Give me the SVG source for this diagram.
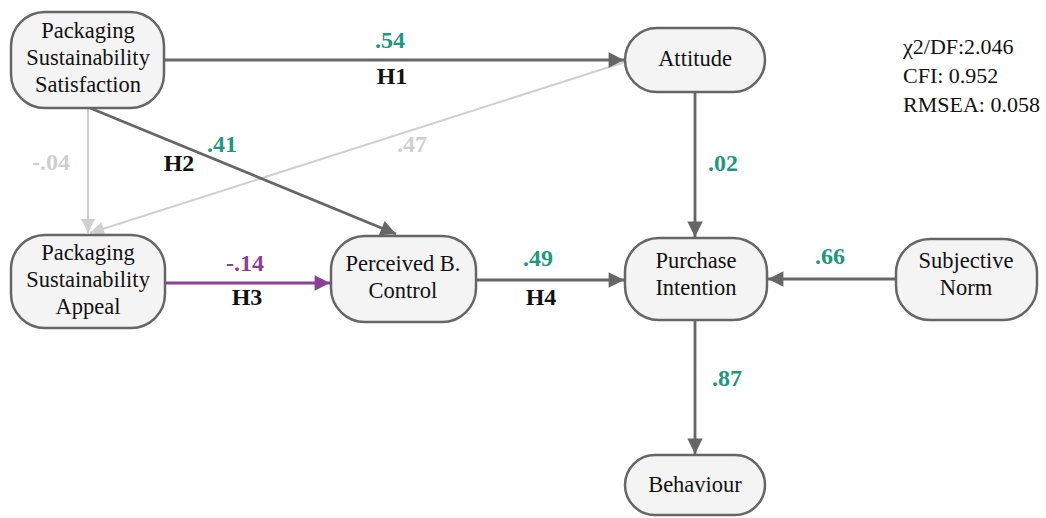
<svg xmlns="http://www.w3.org/2000/svg" width="1046" height="518" viewBox="0 0 1046 518">
<style>
.node rect{fill:#f4f4f4;stroke:#666;stroke-width:2.5}
.node text{font-family:"Liberation Serif",serif;font-size:22.5px;fill:#111;text-anchor:middle}
.e{stroke:#666;stroke-width:2.8;fill:none}
.el{stroke:#cfcfcf;stroke-width:2;fill:none}
.ep{stroke:#8b3f96;stroke-width:2.8;fill:none}
.lbl{font-family:"Liberation Serif",serif;font-size:24px;font-weight:bold;text-anchor:middle}
.t{fill:#22967f}.g{fill:#cfcfcf}.p{fill:#8b3f96}.k{fill:#111}
.fit{font-family:"Liberation Serif",serif;font-size:22px;fill:#111}
</style>
<defs>
<marker id="ad" viewBox="0 0 10 10" refX="10" refY="5" markerWidth="6.5" markerHeight="5.5" markerUnits="strokeWidth" orient="auto"><path d="M0,0L10,5L0,10z" fill="#666"/></marker>
<marker id="al" viewBox="0 0 10 10" refX="10" refY="5" markerWidth="8" markerHeight="7" markerUnits="strokeWidth" orient="auto"><path d="M0,0L10,5L0,10z" fill="#cfcfcf"/></marker>
<marker id="ap" viewBox="0 0 10 10" refX="10" refY="5" markerWidth="6.5" markerHeight="5.5" markerUnits="strokeWidth" orient="auto"><path d="M0,0L10,5L0,10z" fill="#8b3f96"/></marker>
</defs>
<g id="connectors">
<line class="el" x1="88" y1="108" x2="88" y2="233" marker-end="url(#al)"/>
<line class="el" x1="625" y1="62" x2="90" y2="233" marker-end="url(#al)"/>
<line class="e" x1="164" y1="60" x2="624" y2="60" marker-end="url(#ad)"/>
<line class="e" x1="90" y1="108" x2="396" y2="234" marker-end="url(#ad)"/>
<line class="e" x1="695" y1="92" x2="695" y2="237" marker-end="url(#ad)"/>
<line class="ep" x1="165" y1="283" x2="330" y2="283" marker-end="url(#ap)"/>
<line class="e" x1="476" y1="280" x2="624" y2="280" marker-end="url(#ad)"/>
<line class="e" x1="896" y1="279" x2="768" y2="279" marker-end="url(#ad)"/>
<line class="e" x1="695" y1="320" x2="695" y2="454" marker-end="url(#ad)"/>
<text class="lbl t" x="390" y="48">.54</text>
<text class="lbl k" x="392" y="84">H1</text>
<text class="lbl t" x="222" y="152">.41</text>
<text class="lbl k" x="179" y="171">H2</text>
<text class="lbl g" x="51" y="170">-.04</text>
<text class="lbl g" x="412" y="152">.47</text>
<text class="lbl t" x="723" y="171">.02</text>
<text class="lbl p" x="245" y="271">-.14</text>
<text class="lbl k" x="247" y="305">H3</text>
<text class="lbl t" x="538" y="266">.49</text>
<text class="lbl k" x="541" y="305">H4</text>
<text class="lbl t" x="830" y="264">.66</text>
<text class="lbl t" x="727" y="386">.87</text>
</g>
<g id="n-pss" class="node"><rect x="11" y="12" width="153" height="96" rx="34"/><text x="88" y="38">Packaging</text><text x="88" y="65">Sustainability</text><text x="88" y="92">Satisfaction</text></g>
<g id="n-att" class="node"><rect x="625" y="28" width="140" height="64" rx="32"/><text x="695" y="66">Attitude</text></g>
<g id="n-psa" class="node"><rect x="11" y="235" width="154" height="93" rx="34"/><text x="88" y="260">Packaging</text><text x="88" y="287">Sustainability</text><text x="88" y="314">Appeal</text></g>
<g id="n-pbc" class="node"><rect x="331" y="236" width="145" height="86" rx="34"/><text x="403" y="271">Perceived B.</text><text x="403" y="298">Control</text></g>
<g id="n-pi" class="node"><rect x="625" y="238" width="142" height="82" rx="34"/><text x="696" y="268">Purchase</text><text x="696" y="295">Intention</text></g>
<g id="n-sn" class="node"><rect x="896" y="239" width="141" height="81" rx="34"/><text x="966" y="268">Subjective</text><text x="966" y="295">Norm</text></g>
<g id="n-beh" class="node"><rect x="625" y="455" width="140" height="60" rx="30"/><text x="695" y="492">Behaviour</text></g>
<g id="fit">
<text class="fit" x="903" y="54">χ2/DF:2.046</text>
<text class="fit" x="903" y="83">CFI: 0.952</text>
<text class="fit" x="903" y="112">RMSEA: 0.058</text>
</g>
</svg>
